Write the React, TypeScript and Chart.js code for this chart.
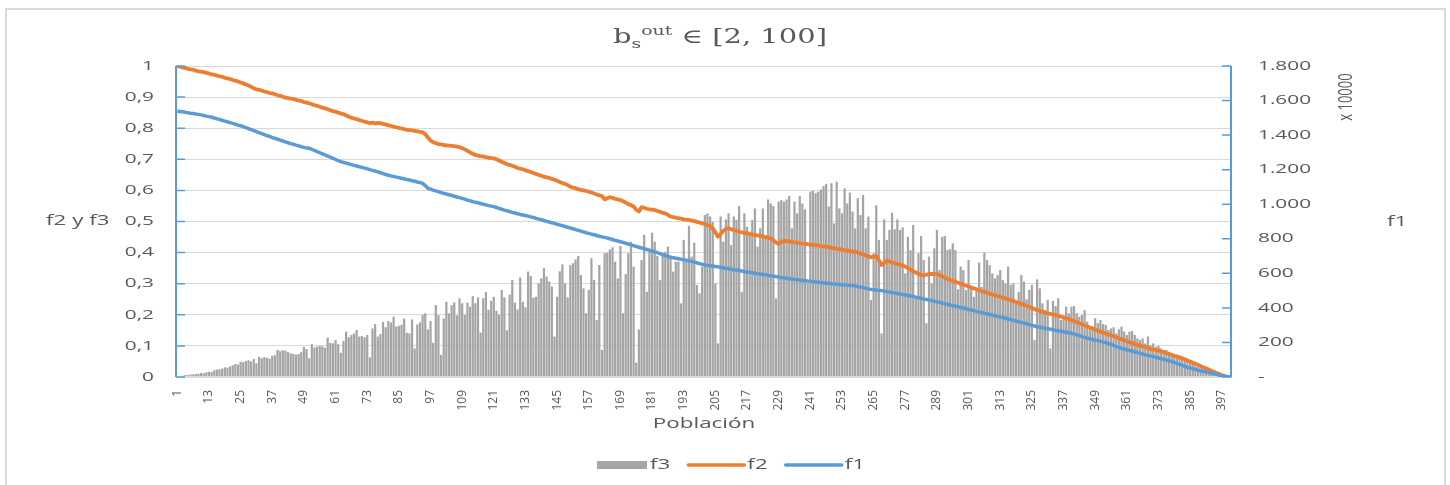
import React, { useEffect, useRef } from 'react';
import { Chart, registerables } from 'chart.js';

Chart.register(...registerables);

// ---------- DATA ----------
const categories: string[] = Array.from({ length: 400 }, (_, i) => String(i + 1));
const xLabelStep = 12;

const f3: number[] = [
  0, .002, .004, .006, .006, .008, .008, .01, .01, .013,
  .012, .015, .017, .016, .022, .024, .025, .027, .031, .03,
  .034, .038, .042, .04, .049, .048, .051, .054, .05, .058,
  .044, .065, .06, .064, .062, .059, .068, .07, .087, .083,
  .086, .085, .08, .076, .074, .072, .074, .08, .097, .09,
  .06, .106, .095, .098, .1, .099, .094, .127, .11, .108,
  .119, .105, .078, .116, .146, .128, .135, .14, .151, .13,
  .132, .128, .135, .063, .156, .17, .13, .138, .177, .16,
  .18, .175, .194, .162, .165, .168, .188, .142, .14, .185,
  .092, .169, .176, .199, .205, .153, .18, .11, .231, .199,
  .071, .188, .242, .205, .231, .24, .198, .253, .237, .2,
  .239, .226, .26, .237, .256, .143, .253, .273, .216, .245,
  .258, .213, .2, .28, .256, .15, .265, .312, .239, .217,
  .32, .242, .224, .339, .325, .255, .258, .301, .317, .35,
  .323, .307, .291, .13, .258, .34, .362, .301, .256, .36,
  .366, .378, .389, .328, .285, .205, .28, .382, .312, .183,
  .36, .087, .398, .4, .41, .417, .371, .317, .421, .205,
  .331, .398, .435, .355, .046, .153, .376, .457, .274, .408,
  .464, .435, .389, .312, .392, .403, .419, .385, .339, .371,
  .371, .237, .441, .374, .486, .387, .432, .296, .269, .355,
  .521, .526, .516, .499, .301, .108, .516, .435, .507, .526,
  .424, .516, .505, .55, .274, .526, .483, .462, .505, .542,
  .419, .478, .542, .451, .571, .558, .55, .253, .564, .569,
  .564, .571, .582, .478, .564, .526, .582, .558, .539, .301,
  .596, .599, .591, .596, .603, .614, .621, .548, .623, .494,
  .628, .542, .526, .607, .558, .593, .532, .478, .575, .521,
  .585, .478, .516, .248, .398, .552, .441, .14, .507, .441,
  .473, .528, .475, .507, .473, .481, .333, .451, .408, .489,
  .258, .398, .453, .376, .173, .387, .301, .414, .473, .344,
  .451, .453, .408, .411, .43, .408, .282, .355, .344, .28,
  .376, .29, .258, .282, .368, .29, .4, .376, .36, .333,
  .317, .328, .344, .312, .301, .355, .296, .301, .237, .274,
  .328, .307, .25, .28, .296, .119, .314, .285, .237, .215,
  .248, .092, .245, .228, .253, .183, .194, .226, .205, .226,
  .228, .205, .194, .199, .215, .178, .162, .162, .189, .173,
  .183, .17, .167, .151, .156, .16, .14, .153, .162, .146,
  .135, .146, .148, .135, .124, .119, .124, .108, .13, .103,
  .108, .097, .1, .092, .087, .087, .081, .076, .071, .071,
  .068, .063, .055, .053, .049, .046, .038, .033, .028, .025,
  .023, .017, .017, .014, .012, .01, .008, .006, .004, .002,
];

const f2: number[] = [
  1, .998, .995, .994, .991, .989, .988, .985, .983, .982,
  .98, .978, .976, .973, .972, .969, .967, .965, .962, .96,
  .958, .955, .953, .95, .947, .944, .941, .937, .933, .928,
  .925, .923, .921, .918, .916, .913, .912, .909, .906, .904,
  .901, .898, .897, .895, .894, .891, .889, .887, .884, .882,
  .88, .877, .874, .872, .869, .866, .864, .861, .858, .855,
  .853, .85, .847, .845, .841, .837, .834, .831, .829, .826,
  .824, .821, .819, .816, .818, .815, .817, .816, .814, .812,
  .809, .807, .805, .803, .801, .799, .797, .795, .794, .793,
  .791, .79, .788, .787, .781, .77, .76, .755, .752, .749,
  .748, .746, .745, .744, .743, .742, .741, .739, .736, .732,
  .727, .722, .718, .714, .712, .71, .709, .707, .705, .704,
  .703, .7, .696, .692, .688, .684, .682, .679, .676, .672,
  .67, .668, .665, .662, .659, .656, .653, .65, .647, .644,
  .642, .64, .637, .634, .631, .627, .624, .621, .617, .612,
  .609, .607, .604, .602, .6, .598, .596, .593, .59, .587,
  .584, .582, .571, .575, .578, .576, .573, .571, .569, .565,
  .561, .556, .552, .548, .538, .532, .546, .544, .541, .539,
  .538, .537, .534, .531, .528, .526, .521, .516, .514, .512,
  .511, .509, .507, .506, .505, .503, .501, .499, .497, .494,
  .492, .489, .486, .478, .465, .451, .46, .47, .476, .478,
  .475, .472, .47, .467, .465, .463, .462, .46, .458, .457,
  .455, .454, .452, .45, .448, .446, .44, .432, .428, .434,
  .437, .438, .436, .434, .433, .432, .43, .429, .428, .427,
  .426, .425, .424, .423, .421, .42, .419, .417, .415, .414,
  .412, .411, .41, .408, .407, .405, .404, .403, .4, .397,
  .394, .391, .388, .385, .387, .389, .375, .36, .366, .374,
  .372, .369, .366, .364, .361, .358, .355, .35, .345, .34,
  .336, .332, .328, .327, .329, .331, .332, .331, .331, .328,
  .324, .32, .316, .312, .309, .306, .303, .3, .297, .294,
  .291, .288, .285, .282, .279, .276, .274, .271, .268, .265,
  .263, .26, .258, .255, .253, .25, .247, .244, .241, .238,
  .235, .232, .229, .226, .222, .218, .215, .212, .21, .207,
  .205, .203, .201, .199, .197, .194, .192, .189, .186, .183,
  .18, .177, .173, .17, .166, .162, .159, .156, .152, .149,
  .146, .143, .14, .137, .134, .131, .128, .124, .121, .118,
  .115, .112, .109, .106, .103, .101, .098, .096, .093, .09,
  .088, .087, .085, .082, .08, .077, .074, .071, .068, .066,
  .063, .06, .057, .053, .05, .046, .043, .039, .035, .031,
  .028, .024, .02, .017, .013, .01, .006, .003, .001, 0,
];

// f1 in units of x10000
const f1: number[] = [
  1540, 1537, 1535, 1532, 1530, 1527, 1525, 1522, 1520, 1517,
  1514, 1510, 1507, 1503, 1499, 1494, 1490, 1486, 1481, 1477,
  1472, 1468, 1463, 1458, 1454, 1449, 1443, 1437, 1432, 1426,
  1420, 1414, 1409, 1403, 1397, 1392, 1386, 1381, 1376, 1371,
  1366, 1361, 1356, 1351, 1347, 1342, 1338, 1333, 1329, 1326,
  1324, 1318, 1311, 1305, 1298, 1291, 1285, 1279, 1272, 1266,
  1259, 1252, 1246, 1242, 1238, 1234, 1229, 1225, 1221, 1217,
  1213, 1209, 1205, 1200, 1196, 1192, 1187, 1182, 1177, 1172,
  1168, 1164, 1160, 1157, 1154, 1150, 1147, 1143, 1140, 1136,
  1133, 1129, 1125, 1121, 1108, 1092, 1087, 1082, 1077, 1073,
  1068, 1063, 1059, 1055, 1051, 1046, 1042, 1038, 1034, 1029,
  1024, 1020, 1015, 1011, 1008, 1004, 1000, 996, 992, 989,
  986, 981, 976, 971, 966, 962, 957, 953, 949, 945,
  941, 938, 935, 931, 927, 923, 918, 914, 910, 906,
  901, 897, 893, 889, 884, 880, 876, 871, 867, 862,
  858, 853, 849, 844, 840, 835, 831, 827, 823, 819,
  815, 811, 808, 804, 800, 796, 791, 787, 783, 779,
  774, 770, 765, 760, 756, 751, 747, 742, 738, 734,
  729, 725, 720, 714, 708, 703, 698, 693, 690, 687,
  684, 681, 678, 676, 673, 669, 665, 661, 656, 652,
  648, 646, 644, 642, 640, 638, 635, 632, 630, 627,
  624, 621, 619, 616, 613, 611, 608, 606, 603, 600,
  598, 596, 593, 591, 588, 586, 583, 581, 578, 576,
  574, 571, 569, 567, 565, 563, 561, 559, 557, 555,
  554, 552, 550, 548, 546, 545, 543, 542, 540, 539,
  537, 536, 534, 533, 532, 530, 529, 527, 524, 521,
  517, 514, 510, 507, 505, 503, 502, 500, 497, 494,
  492, 489, 486, 483, 480, 477, 475, 472, 469, 466,
  462, 459, 456, 452, 449, 446, 443, 439, 436, 432,
  428, 425, 421, 417, 414, 410, 406, 402, 399, 395,
  391, 388, 384, 380, 377, 373, 369, 366, 362, 358,
  355, 351, 347, 344, 340, 336, 332, 328, 324, 320,
  316, 312, 308, 304, 299, 295, 291, 288, 285, 282,
  279, 276, 273, 270, 267, 265, 262, 259, 256, 253,
  248, 244, 239, 234, 229, 224, 220, 217, 213, 210,
  206, 203, 199, 194, 188, 183, 177, 172, 166, 162,
  158, 154, 150, 145, 141, 137, 133, 129, 125, 122,
  118, 114, 110, 106, 102, 98, 94, 89, 84, 78,
  73, 67, 62, 56, 52, 48, 44, 40, 36, 33,
  31, 27, 23, 19, 15, 11, 6, 4, 2, 0,
];

const leftTickValues = [0, 0.1, 0.2, 0.3, 0.4, 0.5, 0.6, 0.7, 0.8, 0.9, 1];
const leftTickLabels = ['0', '0,1', '0,2', '0,3', '0,4', '0,5', '0,6', '0,7', '0,8', '0,9', '1'];
const rightTickValues = [0, 200, 400, 600, 800, 1000, 1200, 1400, 1600, 1800];
const rightTickLabels = ['-', '200', '400', '600', '800', '1.000', '1.200', '1.400', '1.600', '1.800'];

const legendItems = [
  { label: 'f3', kind: 'bar' },
  { label: 'f2', kind: 'line' },
  { label: 'f1', kind: 'line' },
];

// ---------- STYLE ----------
const GRAY = '#a5a5a5';
const ORANGE = '#ed7d31';
const BLUE = '#5b9bd5';
const GRID = '#d9d9d9';
const TEXT = '#595959';
const SANS = '"Open Sans", "Liberation Sans", sans-serif';
const SERIF = '"DejaVu Serif", "Liberation Serif", serif';
const SX = 1.6; // horizontal stretch of text in the reference
const TITLE_SX = 1.45;

function stretchedText(
  ctx: CanvasRenderingContext2D,
  s: string,
  x: number,
  y: number,
  font: string,
  align: CanvasTextAlign,
  sx = SX,
  baseline: CanvasTextBaseline = 'middle',
  color = TEXT
) {
  ctx.save();
  ctx.translate(x, y);
  ctx.scale(sx, 1);
  ctx.font = font;
  ctx.fillStyle = color;
  ctx.textAlign = align;
  ctx.textBaseline = baseline;
  ctx.fillText(s, 0, 0);
  ctx.restore();
}

const decorPlugin = {
  id: 'decor',
  afterDraw(chart: any) {
    const { ctx, chartArea: a } = chart;
    const ys = chart.scales.y;
    const y1s = chart.scales.y1;

    // axis lines and inward ticks (blue)
    ctx.save();
    ctx.strokeStyle = BLUE;
    ctx.lineWidth = 2;
    ctx.beginPath();
    ctx.moveTo(a.left, a.top);
    ctx.lineTo(a.left, a.bottom);
    ctx.moveTo(a.right, a.top);
    ctx.lineTo(a.right, a.bottom);
    ctx.stroke();
    ctx.lineWidth = 1.5;
    ctx.beginPath();
    leftTickValues.forEach((v) => {
      const py = ys.getPixelForValue(v);
      ctx.moveTo(a.left, py);
      ctx.lineTo(a.left + 9, py);
    });
    rightTickValues.forEach((v) => {
      const py = y1s.getPixelForValue(v);
      ctx.moveTo(a.right - 9, py);
      ctx.lineTo(a.right, py);
    });
    ctx.stroke();
    ctx.restore();

    const tickFont = `13px ${SANS}`;
    leftTickValues.forEach((v, i) => {
      stretchedText(ctx, leftTickLabels[i], a.left - 22, ys.getPixelForValue(v), tickFont, 'right');
    });
    rightTickValues.forEach((v, i) => {
      stretchedText(ctx, rightTickLabels[i], a.right + 27, y1s.getPixelForValue(v), tickFont, 'left');
    });

    const midY = (a.top + a.bottom) / 2;
    const titleFont = `14px ${SANS}`;
    stretchedText(ctx, 'f2 y f3', 46, midY, titleFont, 'left');
    stretchedText(ctx, 'f1', 1387, midY + 1, titleFont, 'left');
    stretchedText(ctx, 'Población', 704, 424, titleFont, 'center');

    // "x 10000" rotated
    ctx.save();
    ctx.translate(1346, 97);
    ctx.rotate(-Math.PI / 2);
    ctx.scale(1, 1.5);
    ctx.font = `13px ${SANS}`;
    ctx.fillStyle = TEXT;
    ctx.textAlign = 'center';
    ctx.textBaseline = 'middle';
    ctx.fillText('x 10000', 0, 0);
    ctx.restore();

    // legend
    const ly = 465;
    let lx = 597;
    const legFont = `14px ${SANS}`;
    legendItems.forEach((it) => {
      const color = it.label === 'f3' ? GRAY : it.label === 'f2' ? ORANGE : BLUE;
      ctx.save();
      if (it.kind === 'bar') {
        ctx.fillStyle = color;
        ctx.fillRect(lx, ly - 4, 50, 8);
        lx += 53;
      } else {
        ctx.strokeStyle = color;
        ctx.lineWidth = 3.5;
        ctx.lineCap = 'round';
        ctx.beginPath();
        ctx.moveTo(lx, ly);
        ctx.lineTo(lx + 56, ly);
        ctx.stroke();
        lx += 59;
      }
      ctx.restore();
      ctx.save();
      ctx.font = legFont;
      const w = ctx.measureText(it.label).width * SX;
      ctx.restore();
      stretchedText(ctx, it.label, lx, ly, legFont, 'left');
      lx += w + 18;
    });

    // title: b_s^out ∈ [2, 100]
    const parts = [
      { t: 'b', size: 20, dy: 0 },
      { t: 's', size: 13, dy: 5 },
      { t: 'out', size: 13, dy: -8 },
      { t: ' \u2208 [2, 100]', size: 20, dy: 0 },
    ];
    ctx.save();
    let total = 0;
    const widths = parts.map((p) => {
      ctx.font = `${p.size}px ${SERIF}`;
      const w = ctx.measureText(p.t).width * TITLE_SX;
      total += w;
      return w;
    });
    ctx.restore();
    let tx = 720 - total / 2;
    parts.forEach((p, i) => {
      stretchedText(ctx, p.t, tx, 43 + p.dy, `${p.size}px ${SERIF}`, 'left', TITLE_SX, 'alphabetic');
      tx += widths[i];
    });
  },
};

export default function App() {
  const ref = useRef<HTMLCanvasElement>(null);

  useEffect(() => {
    if (!ref.current) return;
    const chart = new Chart(ref.current, {
      type: 'bar',
      data: {
        labels: categories,
        datasets: [
          {
            type: 'line',
            label: 'f1',
            data: f1,
            yAxisID: 'y1',
            borderColor: BLUE,
            backgroundColor: BLUE,
            borderWidth: 3.5,
            pointRadius: 0,
            tension: 0,
            borderJoinStyle: 'round',
            order: 0,
          } as any,
          {
            type: 'line',
            label: 'f2',
            data: f2,
            yAxisID: 'y',
            borderColor: ORANGE,
            backgroundColor: ORANGE,
            borderWidth: 3.8,
            pointRadius: 0,
            tension: 0,
            borderJoinStyle: 'round',
            order: 1,
          } as any,
          {
            type: 'bar',
            label: 'f3',
            data: f3,
            yAxisID: 'y',
            backgroundColor: GRAY,
            barPercentage: 0.85,
            categoryPercentage: 1,
            order: 2,
          } as any,
        ],
      },
      options: {
        responsive: false,
        animation: false,
        events: [],
        layout: { padding: { top: 66, left: 0, right: 0, bottom: 0 } },
        plugins: {
          legend: { display: false },
          title: { display: false },
          tooltip: { enabled: false },
        },
        scales: {
          x: {
            type: 'category',
            offset: true,
            grid: { display: false },
            border: { display: true, color: GRID, width: 1 },
            ticks: {
              autoSkip: false,
              maxRotation: 90,
              minRotation: 90,
              padding: 5,
              color: TEXT,
              font: { family: SANS, size: 12 },
              callback: (_v: any, idx: number) => (idx % xLabelStep === 0 ? categories[idx] : ''),
            },
            afterFit: (s: any) => {
              s.height = 108;
            },
          },
          y: {
            position: 'left',
            min: 0,
            max: 1,
            ticks: { display: false, stepSize: 0.1 },
            grid: { color: GRID, drawTicks: false, lineWidth: 1 },
            border: { display: false },
            afterFit: (s: any) => {
              s.width = 176;
            },
          },
          y1: {
            position: 'right',
            min: 0,
            max: 1800,
            ticks: { display: false, stepSize: 200 },
            grid: { display: false },
            border: { display: false },
            afterFit: (s: any) => {
              s.width = 219;
            },
          },
        },
      } as any,
      plugins: [decorPlugin],
    });
    return () => chart.destroy();
  }, []);

  return (
    <div
      style={{
        position: 'absolute',
        left: 0,
        top: 0,
        width: 1450,
        height: 485,
        overflow: 'hidden',
        background: '#ffffff',
      }}
    >
      <div
        style={{
          position: 'absolute',
          left: 5,
          top: 8,
          width: 1441,
          height: 520,
          border: `2px solid ${GRID}`,
          boxSizing: 'border-box',
        }}
      />
      <canvas ref={ref} width={1450} height={485} style={{ position: 'absolute', left: 0, top: 0 }} />
    </div>
  );
}
